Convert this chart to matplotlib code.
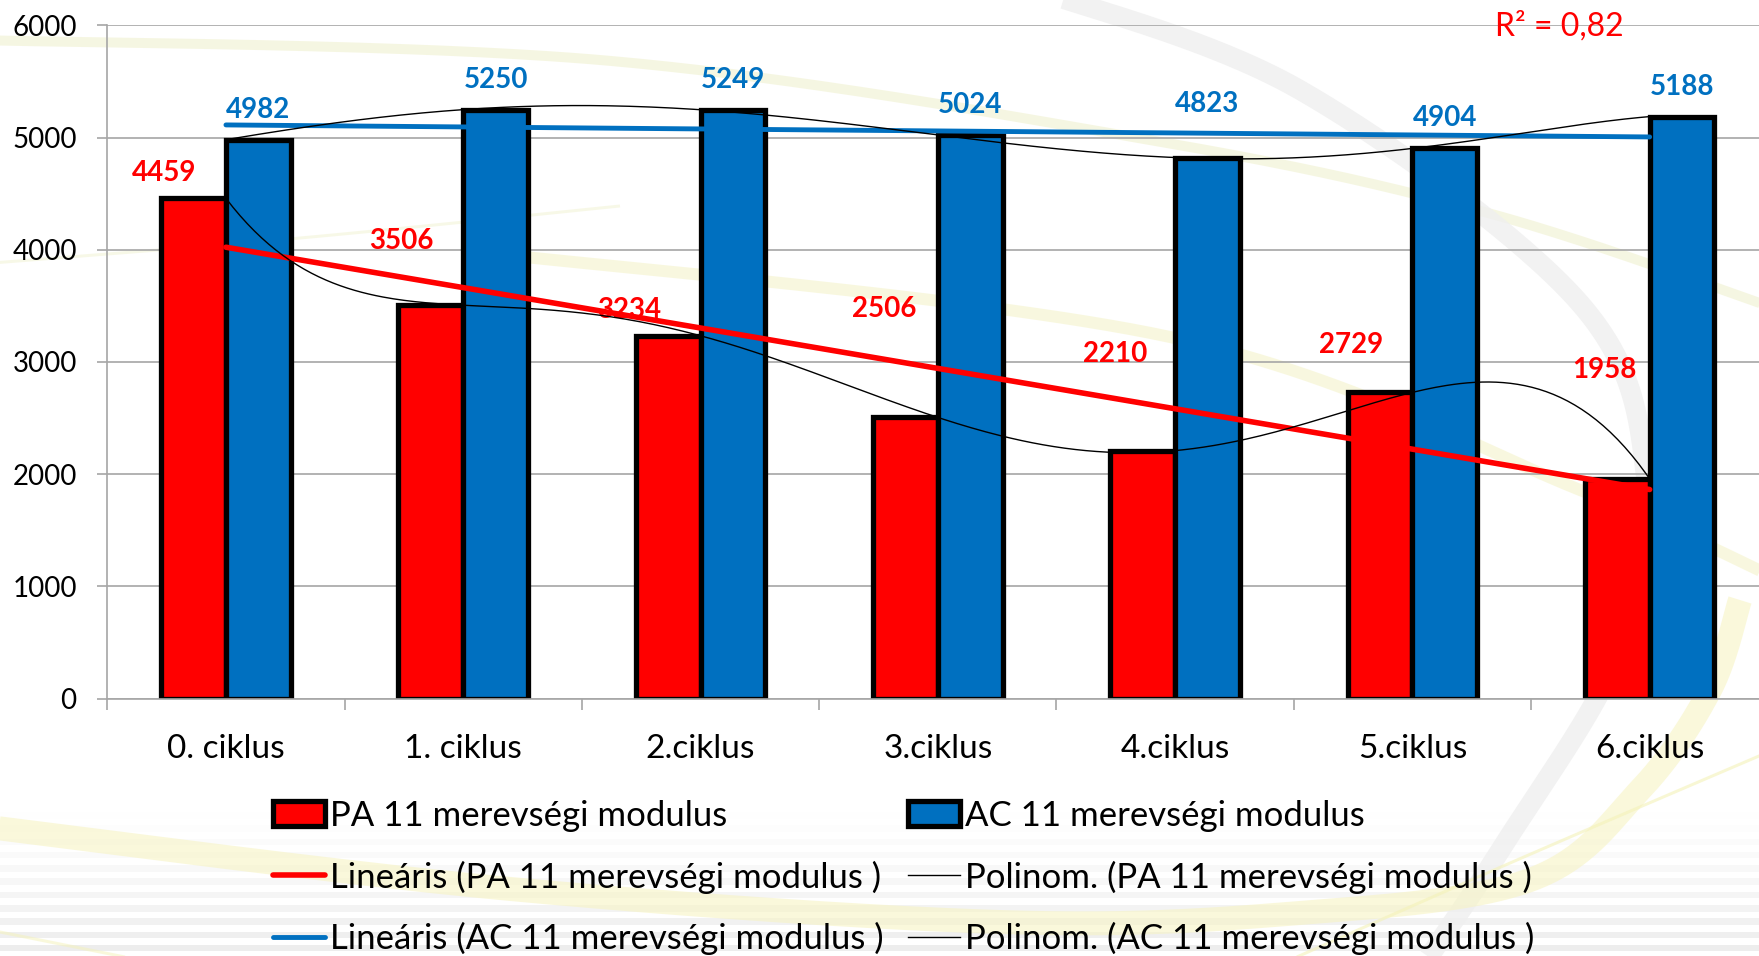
import numpy as np
import matplotlib.pyplot as plt

plt.rcParams['font.family'] = ['Lato', 'DejaVu Sans']

categories = ['0. ciklus', '1. ciklus', '2.ciklus', '3.ciklus', '4.ciklus', '5.ciklus', '6.ciklus']
pa_values = [4459, 3506, 3234, 2506, 2210, 2729, 1958]
ac_values = [4982, 5250, 5249, 5024, 4823, 4904, 5188]
y_ticks = [0, 1000, 2000, 3000, 4000, 5000, 6000]

pa_name = 'PA 11 merevségi modulus'
ac_name = 'AC 11 merevségi modulus'

# hand-placed data label nudges, in pixels from the bar top
pa_label_dx = [-62, -62, -71, -54, -60, -61, -45]
pa_label_dy = [25, 64, 26, 108, 97, 47, 109]
ac_label_dy = [30, 30, 30, 30, 54, 30, 30]

RED = '#ff0000'
BLUE = '#0070c0'
GRID = '#a6a6a6'
PX = 0.72  # points per pixel at 100 dpi

W, H = 1759, 956
fig = plt.figure(figsize=(W / 100, H / 100), dpi=100)
fig.patch.set_facecolor('white')


def smooth(pts, n=60):
    # Catmull-Rom spline through the given points
    p = np.asarray(pts, float)
    p = np.vstack([p[0], p, p[-1]])
    t = np.linspace(0, 1, n)[:, None]
    out = []
    for i in range(1, len(p) - 2):
        p0, p1, p2, p3 = p[i - 1], p[i], p[i + 1], p[i + 2]
        out.append(0.5 * (2 * p1 + (-p0 + p2) * t + (2 * p0 - 5 * p1 + 4 * p2 - p3) * t ** 2
                          + (-p0 + 3 * p1 - 3 * p2 + p3) * t ** 3))
    return np.vstack(out)


# slide background: soft stripes and swooshes
bg = fig.add_axes([0, 0, 1, 1], zorder=0)
bg.set_xlim(0, W)
bg.set_ylim(H, 0)
bg.axis('off')

for y0 in np.arange(812, H, 13.3):
    a = ((y0 - 800) / (H - 800)) ** 1.3
    bg.axhspan(y0, y0 + 6.5, color='#d8d8d8', alpha=0.5 * a, lw=0)

swooshes = [
    ([(-20, 40), (600, 60), (1150, 140), (1488, 213), (1780, 310)], 10, '#f2f3d6', 0.7),
    ([(-20, 264), (300, 238), (620, 206)], 3, '#f3f4d8', 0.6),
    ([(480, 252), (1170, 337), (1580, 490), (1780, 580)], 12, '#f6f5d2', 0.7),
    ([(1037, -10), (1300, 90), (1577, 300), (1646, 477), (1620, 650), (1507, 840), (1420, 970)], 20, '#efefef', 0.8),
    ([(-20, 826), (500, 888), (1000, 922), (1300, 913), (1530, 880), (1640, 790), (1710, 690), (1740, 600)], 24, '#f7f4c4', 0.6),
    ([(1780, 747), (1517, 860), (1290, 960)], 3, '#f4f2b8', 0.6),
    ([(-10, 930), (140, 960)], 3, '#f4f2b8', 0.5),
]
for pts, lw, color, alpha in swooshes:
    c = smooth(pts)
    bg.plot(c[:, 0], c[:, 1], color=color, lw=lw * PX, alpha=alpha, solid_capstyle='butt')

# chart
ax = fig.add_axes([107.3 / W, (H - 698.5) / H, 1661 / W, 673 / H], zorder=1)
ax.set_facecolor('none')

x = np.arange(len(categories))
bw = 0.273
bars_pa = ax.bar(x - bw / 2, pa_values, bw, color=RED, edgecolor='black', linewidth=3.8, zorder=2)
bars_ac = ax.bar(x + bw / 2, ac_values, bw, color=BLUE, edgecolor='black', linewidth=3.8, zorder=2)

for i, v in enumerate(pa_values):
    ax.annotate(str(v), (i, v), xytext=(pa_label_dx[i] * PX, pa_label_dy[i] * PX),
                textcoords='offset points', ha='center', va='center',
                color=RED, fontsize=20, fontweight='bold', zorder=3)
for i, v in enumerate(ac_values):
    ax.annotate(str(v), (i + bw / 2, v), xytext=(0, ac_label_dy[i] * PX),
                textcoords='offset points', ha='center', va='center',
                color=BLUE, fontsize=20, fontweight='bold', zorder=3)

# trendlines
xs = np.linspace(0, len(x) - 1, 400)
pa_lin = np.polyfit(x, pa_values, 1)
ac_lin = np.polyfit(x, ac_values, 1)
pa_poly = np.polyfit(x, pa_values, 6)
ac_poly = np.polyfit(x, ac_values, 6)

ends = np.array([0, len(x) - 1])
lin_pa, = ax.plot(ends, np.polyval(pa_lin, ends), color=RED, lw=4, zorder=4, solid_capstyle='round')
lin_ac, = ax.plot(ends, np.polyval(ac_lin, ends), color=BLUE, lw=3.5, zorder=4, solid_capstyle='round')
poly_pa, = ax.plot(xs, np.polyval(pa_poly, xs), color='black', lw=1, zorder=4)
poly_ac, = ax.plot(xs, np.polyval(ac_poly, xs), color='black', lw=1, zorder=4)

pa_arr = np.array(pa_values, float)
resid = pa_arr - np.polyval(pa_lin, x)
r2 = 1 - np.sum(resid ** 2) / np.sum((pa_arr - pa_arr.mean()) ** 2)
ax.text(5.62, 5990, f'R² = {r2:.2f}'.replace('.', ','), color=RED, fontsize=23,
        ha='center', va='center', zorder=3)

# axes styling
ax.set_xlim(-0.5, len(x) - 0.5)
ax.set_ylim(0, 6000)
ax.set_yticks(y_ticks)
ax.set_xticks(x, categories)
ax.set_xticks(np.arange(-0.5, len(x), 1), minor=True)
ax.tick_params(axis='x', which='major', length=0, pad=25.5, labelsize=24)
ax.tick_params(axis='x', which='minor', length=8, width=1.2, color=GRID, direction='out')
ax.tick_params(axis='y', length=7, width=1.2, color=GRID, pad=15, labelsize=20)
ax.yaxis.grid(True, color=GRID, lw=1.2)
ax.set_axisbelow(True)
for side in ['top', 'right']:
    ax.spines[side].set_visible(False)
for side in ['left', 'bottom']:
    ax.spines[side].set_color(GRID)
    ax.spines[side].set_linewidth(1.2)

handles = [bars_pa, lin_pa, lin_ac, bars_ac, poly_pa, poly_ac]
labels = [pa_name, f'Lineáris ({pa_name} )', f'Lineáris ({ac_name} )',
          ac_name, f'Polinom. ({pa_name} )', f'Polinom. ({ac_name} )']
fig.legend(handles, labels, ncol=2, loc='upper left', bbox_to_anchor=(273 / W, 1 - 800 / H),
           frameon=False, fontsize=25, handlelength=1.5, handleheight=0.72,
           handletextpad=0.15, columnspacing=0.68, labelspacing=0.82,
           borderpad=0, borderaxespad=0)

fig.savefig('out.png', dpi=100)
